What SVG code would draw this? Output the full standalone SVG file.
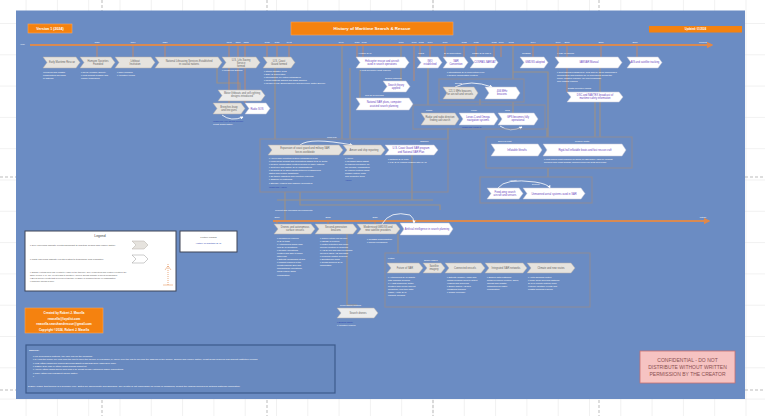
<svg xmlns="http://www.w3.org/2000/svg" width="765" height="416" viewBox="0 0 765 416">
<defs>
<pattern id="grid" x="25.6" y="23" width="31.3" height="31.3" patternUnits="userSpaceOnUse">
<path d="M0 0H31.3M0 0V31.3" fill="none" stroke="#dcdcdc" stroke-width="0.8"/>
</pattern>
<marker id="ar" viewBox="0 0 10 10" refX="8" refY="5" markerWidth="3" markerHeight="3" orient="auto"><path d="M0 0L10 5L0 10z" fill="#e0884a"/></marker>
<marker id="ca" viewBox="0 0 10 10" refX="8" refY="5" markerWidth="4" markerHeight="4" orient="auto"><path d="M0 0L10 5L0 10z" fill="#ffffff"/></marker>
</defs>
<style>
.g{fill:#e6e3de;stroke:#b5afa8;stroke-width:0.5}
.w{fill:#ffffff;stroke:#c6c6d6;stroke-width:0.5}
.tg{font-family:"Liberation Sans",Arial,sans-serif;font-size:2.6px;fill:#666;text-anchor:middle}
.tw{font-family:"Liberation Sans",Arial,sans-serif;font-size:2.6px;fill:#6b45c0;text-anchor:middle}
.lb{font-family:"Liberation Sans",Arial,sans-serif;font-size:2.3px;fill:#ffffff}
.lbc{font-family:"Liberation Sans",Arial,sans-serif;font-size:2.3px;fill:#ffffff;text-anchor:middle}
.yr{font-family:"Liberation Sans",Arial,sans-serif;font-size:2.3px;fill:#ffffff;text-anchor:middle}
.lk{font-family:"Liberation Sans",Arial,sans-serif;font-size:2.3px;fill:#2a3fb0}
.grp{fill:none;stroke:#8e8b97;stroke-width:1}
.cn{stroke:#9a9189;stroke-width:1.2;fill:none}
.tk{stroke:#e0884a;stroke-width:0.7}
.arc{fill:none;stroke:#ffffff;stroke-width:0.8}
</style>
<rect width="765" height="416" fill="#ffffff"/>
<rect width="765" height="416" fill="url(#grid)"/>
<g stroke="#a9a9a9" stroke-width="0.8" stroke-dasharray="3 2">
<line x1="102" y1="0" x2="102" y2="416"/><line x1="267" y1="0" x2="267" y2="416"/>
<line x1="433" y1="0" x2="433" y2="416"/><line x1="599" y1="0" x2="599" y2="416"/>
<line x1="0" y1="177" x2="765" y2="177"/><line x1="0" y1="390" x2="765" y2="390"/>
</g>
<rect id="panel" x="16" y="10.5" width="729" height="388.5" fill="#6b8cc3"/>

<!-- header -->
<g id="version"><rect x="28" y="24" width="44" height="9" fill="#f5820f" stroke="#f9a45a" stroke-width="0.6"/><text x="50" y="30" font-family="Liberation Sans,Arial,sans-serif" font-size="3.6" font-weight="bold" fill="#fff" text-anchor="middle">Version 1 (2024)</text></g>
<g id="title"><rect x="291" y="22" width="162" height="13" fill="#f5820f" stroke="#f9a45a" stroke-width="0.6"/><text x="372" y="30" font-family="Liberation Sans,Arial,sans-serif" font-size="4.4" font-weight="bold" fill="#fff" text-anchor="middle">History of Maritime Search &amp; Rescue</text></g>
<g id="updated"><rect x="649" y="26" width="93" height="6.5" fill="#f5820f"/><text x="695.5" y="30.3" font-family="Liberation Sans,Arial,sans-serif" font-size="2.6" font-weight="bold" fill="#fff" text-anchor="middle">Updated: 01/2024</text></g>

<!-- connectors -->
<g id="connectors">
<g class="cn">
<path d="M217 68V83H240V90"/>
<path d="M275 68V139"/>
<path d="M285 192V221"/>
<path d="M342 45V139"/>
<path d="M350 68V139"/>
<path d="M360 70V98"/>
<path d="M401 45V81"/>
<path d="M428 67V105"/>
<path d="M513 45V79"/>
<path d="M513 102V113"/>
<path d="M513 72H548V137"/>
<path d="M600 68V137"/>
<path d="M547 128V137"/>
<path d="M548 168V177"/>
<path d="M412 155V200"/>
<path d="M448 128V139"/>
<path d="M277 200H433"/>
<path d="M300 192V205H440V210"/>
<path d="M347 234V305H357"/>
<path d="M398 234V253"/>
<path d="M480 99V105"/>
<path d="M595 102V137"/>
</g>
<g class="tk">
<line x1="97" y1="45" x2="97" y2="57"/><line x1="133" y1="45" x2="133" y2="57"/><line x1="165" y1="45" x2="165" y2="57"/>
<line x1="229" y1="45" x2="229" y2="57"/><line x1="238" y1="45" x2="238" y2="57"/><line x1="245" y1="45" x2="245" y2="57"/>
<line x1="229" y1="68" x2="229" y2="103"/><line x1="238" y1="68" x2="238" y2="90"/><line x1="245" y1="68" x2="245" y2="103"/>
<line x1="267" y1="45" x2="267" y2="57"/><line x1="277" y1="45" x2="277" y2="57"/><line x1="289" y1="45" x2="289" y2="57"/>
<line x1="357" y1="45" x2="357" y2="57"/><line x1="363" y1="45" x2="363" y2="57"/>
<line x1="414" y1="45" x2="414" y2="81"/><line x1="420" y1="45" x2="420" y2="57"/><line x1="430" y1="45" x2="430" y2="57"/>
<line x1="445" y1="45" x2="445" y2="57"/><line x1="464" y1="45" x2="464" y2="57"/><line x1="476" y1="45" x2="476" y2="57"/>
<line x1="494" y1="45" x2="494" y2="57"/><line x1="501" y1="45" x2="501" y2="57"/><line x1="533" y1="45" x2="533" y2="57"/>
<line x1="558" y1="45" x2="558" y2="57"/><line x1="567" y1="45" x2="567" y2="92"/><line x1="601" y1="45" x2="601" y2="57"/>
<line x1="637" y1="45" x2="637" y2="57"/>
<line x1="277" y1="221" x2="277" y2="224"/><line x1="328" y1="221" x2="328" y2="224"/><line x1="375" y1="221" x2="375" y2="224"/><line x1="414" y1="221" x2="414" y2="223"/>
</g>
<line x1="30" y1="45" x2="712" y2="45" stroke="#d98a52" stroke-width="2.2" marker-end="url(#ar)"/>
<line x1="273" y1="221" x2="709" y2="221" stroke="#d98a52" stroke-width="2.2" marker-end="url(#ar)"/>
<path class="arc" d="M222 115Q231 122 243 117" marker-end="url(#ca)"/>
<path class="arc" d="M455 87Q470 79 492 87" marker-end="url(#ca)"/>
<path class="arc" d="M500 126Q510 133 522 127" marker-end="url(#ca)"/>
<path class="arc" d="M300 145Q310 137 352 145" marker-end="url(#ca)"/>
<path class="arc" d="M498 188Q505 178 535 182Q548 184 550 188" marker-end="url(#ca)"/>
<path class="arc" d="M382 224Q390 210 410 215Q414 218 414 223" marker-end="url(#ca)"/>
</g>

<!-- timeline labels -->
<g id="years">
<text x="20" y="44.5" class="lb">Year</text>
<text x="97" y="42.5" class="yr">1656</text><text x="133" y="42.5" class="yr">1774</text><text x="165" y="42.5" class="yr">1824</text>
<text x="229" y="42.5" class="yr">1848</text><text x="238" y="42.5" class="yr">1871</text><text x="246" y="42.5" class="yr">1878</text>
<text x="267" y="42.5" class="yr">1915</text><text x="277" y="42.5" class="yr">1939</text><text x="289" y="42.5" class="yr">1942</text>
<text x="341" y="42.5" class="yr">1946</text><text x="357" y="42.5" class="yr">1956</text><text x="364" y="42.5" class="yr">1965</text>
<text x="401" y="42.5" class="yr">1967</text><text x="414" y="42.5" class="yr">1970</text><text x="421" y="42.5" class="yr">1972</text>
<text x="430" y="42.5" class="yr">1974</text><text x="445" y="42.5" class="yr">1979</text><text x="464" y="42.5" class="yr">1982</text>
<text x="476" y="42.5" class="yr">1985</text><text x="494" y="42.5" class="yr">1988</text><text x="501" y="42.5" class="yr">1990</text>
<text x="511" y="42.5" class="yr">1992</text><text x="533" y="42.5" class="yr">1994</text><text x="558" y="42.5" class="yr">1999</text>
<text x="567" y="42.5" class="yr">2000</text><text x="601" y="42.5" class="yr">2006</text><text x="635" y="42.5" class="yr">2010</text>
<text x="703" y="42.5" class="yr">Present</text>
<text x="277" y="217.5" class="yr">2010</text><text x="328" y="217.5" class="yr">2015</text><text x="375" y="217.5" class="yr">2020</text>
<text x="703" y="217.5" class="yr">Future</text>
<text x="275" y="211" class="lb">Current and emerging developments</text>
</g>

<!-- group boxes -->
<g id="groups">
<rect class="grp" x="439" y="79" width="85" height="23"/>
<rect class="grp" x="413" y="105" width="132" height="24"/>
<rect class="grp" x="486" y="137" width="146" height="31"/>
<rect class="grp" x="480" y="177" width="112" height="26"/>
<rect class="grp" x="260" y="139" width="188" height="53"/>
<rect class="grp" x="385" y="253" width="205" height="54"/>
</g>

<!-- top row -->
<g id="n1"><polygon class="g" points="43,57 76,57 80,62.5 76,68 43,68 47,62.5"/><text class="tg" x="62" y="63.4">Early Maritime Rescue</text>
<text class="lb" x="43" y="73">Wreckers and coastal</text><text class="lb" x="43" y="76">communities aid ships</text><text class="lb" x="43" y="79">in distress</text></g>
<g id="n2"><polygon class="g" points="80,57 111,57 115,62.5 111,68 80,68 84,62.5"/><text class="tg" x="98" y="62">Humane Societies</text><text class="tg" x="98" y="65">Founded</text>
<text class="lb" x="81" y="73">▪ Royal Humane Society</text><text class="lb" x="81" y="76">▪ First lifeboat designs and</text><text class="lb" x="81" y="79">rescue techniques</text></g>
<g id="n3"><polygon class="g" points="115,57 151,57 155,62.5 151,68 115,68 119,62.5"/><text class="tg" x="135" y="62">Lifeboat</text><text class="tg" x="135" y="65">Institution</text>
<text class="lb" x="117" y="73">▪ RNLI founded</text><text class="lb" x="117" y="76">▪ Volunteer crews</text></g>
<g id="n4"><polygon class="g" points="155,57 218,57 222,62.5 218,68 155,68 159,62.5"/><text class="tg" x="189" y="62">National Lifesaving Services Established</text><text class="tg" x="189" y="65">in coastal nations</text></g>
<g id="n5"><polygon class="g" points="222,57 256,57 260,62.5 256,68 222,68 226,62.5"/><text class="tg" x="241" y="61">U.S. Life-Saving</text><text class="tg" x="241" y="64">Service</text><text class="tg" x="241" y="67">formed</text>
<text class="lb" x="222" y="71">▪ Lifesaving stations</text></g>
<g id="n6"><polygon class="g" points="263,57 291,57 295,62.5 291,68 263,68 267,62.5"/><text class="tg" x="279" y="62">U.S. Coast</text><text class="tg" x="279" y="65">Guard formed</text>
<text class="lb" x="264" y="72">▪ Titanic disaster 1912</text><text class="lb" x="264" y="75">▪ SOLAS Convention</text><text class="lb" x="264" y="78">▪ International Ice Patrol established</text><text class="lb" x="264" y="81">▪ Radio distress signals and SOS adopted</text><text class="lb" x="264" y="84">▪ Merger of Life-Saving Service and Revenue Cutter Service</text></g>
<g id="n7"><text class="lb" x="358" y="54">Aviation SAR</text><polygon class="w" points="356,57 405,57 409,62.5 405,68 356,68 360,62.5"/><text class="tw" x="382" y="62">Helicopter rescue and aircraft</text><text class="tw" x="382" y="65">used in search operations</text>
<text class="lb" x="360" y="71">▪ First helicopter hoist rescues</text></g>
<g id="n8"><text class="lb" x="418" y="54">IMCO</text><polygon class="w" points="417,57 438,57 442,62.5 438,68 417,68 421,62.5"/><text class="tw" x="430" y="62">IMO</text><text class="tw" x="430" y="65">established</text></g>
<g id="n9"><text class="lb" x="444" y="54">SAR Convention</text><polygon class="w" points="443,57 464,57 468,62.5 464,68 443,68 447,62.5"/><text class="tw" x="456" y="62">SAR</text><text class="tw" x="456" y="65">Convention</text>
<text class="lb" x="447" y="73">▪ International SAR Convention 1979</text><text class="lb" x="447" y="76">▪ Rescue coordination centres</text></g>
<g id="n10"><text class="lb" x="472" y="54">COSPAS-SARSAT</text><polygon class="w" points="470,57 494,57 498,62.5 494,68 470,68 474,62.5"/><text class="tw" x="485" y="63.4">COSPAS-SARSAT</text></g>
<g id="n11"><text class="lb" x="522" y="54">GMDSS</text><polygon class="w" points="520,57 544,57 548,62.5 544,68 520,68 524,62.5"/><text class="tw" x="535" y="63.4">GMDSS adopted</text></g>
<g id="n12"><text class="lb" x="557" y="54">IAMSAR Manual</text><polygon class="w" points="555,57 618,57 622,62.5 618,68 555,68 559,62.5"/><text class="tw" x="589" y="63.4">IAMSAR Manual</text>
<text class="lb" x="557" y="73">▪ Joint manual published by IMO and ICAO for harmonised</text><text class="lb" x="557" y="76">aeronautical and maritime SAR procedures across the</text><text class="lb" x="557" y="79">world, updated regularly for new technology</text><text class="lb" x="557" y="82">and lessons learned</text></g>
<g id="n13"><polygon class="w" points="627,57 658,57 662,62.5 658,68 627,68 631,62.5"/><text class="tw" x="645" y="63.4">AIS and satellite tracking</text></g>

<!-- second level -->
<g id="n14"><polygon fill="#ececec" stroke="#b5afa8" stroke-width="0.5" points="218,90 261,90 265,95.5 261,101 218,101 222,95.5"/><text class="tg" x="242" y="94">Motor lifeboats and self-righting</text><text class="tg" x="242" y="97">designs introduced</text></g>
<g id="n15"><polygon class="g" points="213,103 241,103 245,108.5 241,114 213,114 217,108.5"/><text class="tg" x="229" y="108">Breeches buoy</text><text class="tg" x="229" y="111">and line guns</text></g>
<g id="n16"><polygon class="w" points="245,103 266,103 270,108.5 266,114 245,114 249,108.5"/><text class="tw" x="257" y="109.5">Radio SOS</text>
<text class="lk" x="213" y="122">Wikipedia: Life-saving service</text><text class="lb" x="213" y="125">Coast guard history</text></g>
<g id="n17"><text class="lb" x="385" y="79">Search planning</text><polygon class="w" points="383,81 406,81 410,86.5 406,92 383,92 387,86.5"/><text class="tw" x="396" y="86">Search theory</text><text class="tw" x="396" y="89">applied</text></g>
<g id="n18"><text class="lb" x="365" y="96">Civil SAR services</text><polygon class="w" points="356,98 409,98 413,104 409,110 356,110 360,104"/><text class="tw" x="384" y="103">National SAR plans, computer</text><text class="tw" x="384" y="106.5">assisted search planning</text></g>
<g id="n19"><text class="lb" x="455" y="84">EPIRB</text><polygon class="g" points="443,87 474,87 478,93 474,99 443,99 447,93"/><text class="tg" x="460" y="92">121.5 MHz beacons</text><text class="tg" x="460" y="95">for aircraft and vessels</text></g>
<g id="n20"><polygon class="w" points="485,87 516,87 520,93 516,99 485,99 489,93"/><text class="tw" x="502" y="92">406 MHz</text><text class="tw" x="502" y="95">beacons</text></g>
<g id="n21"><text class="lb" x="568" y="89">Digital selective calling</text><polygon class="w" points="567,92 619,92 623,97 619,102 567,102 571,97"/><text class="tw" x="595" y="96">DSC and NAVTEX broadcast of</text><text class="tw" x="595" y="99">maritime safety information</text></g>
<g id="n22"><text class="lb" x="426" y="111">Radar</text><polygon class="g" points="421,113 455,113 459,119 455,125 421,125 425,119"/><text class="tg" x="440" y="118">Radar and radio direction</text><text class="tg" x="440" y="121">finding aid search</text></g>
<g id="n23"><text class="lb" x="471" y="111">Loran</text><polygon class="w" points="459,113 494,113 498,119 494,125 459,125 463,119"/><text class="tw" x="478" y="118">Loran-C and Omega</text><text class="tw" x="478" y="121">navigation systems</text>
<text class="lk" x="462" y="127.5">Wikipedia: Loran-C</text></g>
<g id="n24"><text class="lb" x="505" y="111">GPS</text><polygon class="w" points="498,113 534,113 538,119 534,125 498,125 502,119"/><text class="tw" x="518" y="118">GPS becomes fully</text><text class="tw" x="518" y="121">operational</text></g>
<g id="n25"><text class="lb" x="498" y="142">Survival craft</text><polygon class="w" points="491,144 538,144 542,150 538,156 491,156 495,150"/><text class="tw" x="517" y="151">Inflatable liferafts</text></g>
<g id="n26"><text class="lb" x="575" y="142">Rescue boats</text><polygon class="w" points="543,144 622,144 626,150 622,156 543,156 547,150"/><text class="tw" x="585" y="151">Rigid-hull inflatable boats and fast rescue craft</text>
<text class="lb" x="544" y="160">▪ Fast rescue craft required on ships; RHIBs widely used by lifeboat</text><text class="lb" x="544" y="163">services and coast guards; improved survival suits and PFDs</text></g>
<g id="n27"><text class="lb" x="509" y="180.5">Aircraft</text><text class="lb" x="532" y="185">Drones</text><polygon class="w" points="487,188 519,188 523,193.5 519,199 487,199 491,193.5"/><text class="tw" x="505" y="192.5">Fixed-wing search</text><text class="tw" x="505" y="195.5">aircraft and sensors</text></g>
<g id="n28"><polygon class="w" points="523,188 581,188 585,193.5 581,199 523,199 527,193.5"/><text class="tw" x="554" y="194.5">Unmanned aerial systems used in SAR</text></g>
<g id="n29"><text class="lb" x="327" y="138">Cold War</text><polygon class="g" points="268,145 339,145 343,150 339,155 268,155 272,150"/><text class="tg" x="305" y="149">Expansion of coast guard and military SAR</text><text class="tg" x="305" y="152.5">forces worldwide</text>
<text class="lb" x="269" y="159">▪ Amver ship reporting system established 1958</text><text class="lb" x="269" y="162">▪ Long-range aircraft and helicopters added to SAR fleets</text><text class="lb" x="269" y="165">▪ Rescue coordination centres formed in many nations</text><text class="lb" x="269" y="168">▪ Joint civil and military SAR organisations</text><text class="lb" x="269" y="171">▪ Regional SAR agreements between neighbouring</text><text class="lb" x="269" y="174">states and mutual assistance</text><text class="lb" x="269" y="177">▪ Oil tanker disasters and pollution response</text><text class="lb" x="269" y="180">▪ Offshore oil platforms</text><text class="lb" x="269" y="184">▪ Standby vessels and offshore helicopters</text><text class="lk" x="269" y="188">Wikipedia: Amver</text></g>
<g id="n30"><polygon class="g" points="343,145 381,145 385,150 381,155 343,155 347,150"/><text class="tg" x="364" y="151">Amver and ship reporting</text>
<text class="lb" x="345" y="159">▪ Amver</text><text class="lb" x="345" y="162">▪ Merchant ships assist</text><text class="lb" x="345" y="165">in rescues anywhere on</text><text class="lb" x="345" y="168">the oceans, coordinated</text><text class="lb" x="345" y="171">by rescue centres using</text><text class="lb" x="345" y="174">surface picture plots</text><text class="lb" x="345" y="177">and computer tools</text><text class="lk" x="345" y="181">Amver</text></g>
<g id="n31"><text class="lb" x="420" y="142">Offshore</text><polygon class="w" points="385,145 434,145 438,150 434,155 385,155 389,150"/><text class="tw" x="411" y="149">U.S. Coast Guard SAR program</text><text class="tw" x="411" y="152.5">and National SAR Plan</text>
<text class="lb" x="388" y="160">▪ National SAR Plan</text><text class="lb" x="388" y="163">▪ U.S. SAR regions aligned with ICAO</text></g>

<!-- lower timeline -->
<g id="n32"><polygon class="g" points="274,224 311,224 315,229 311,234 274,234 278,229"/><text class="tg" x="295" y="228">Drones and autonomous</text><text class="tg" x="295" y="231">surface vessels</text>
<text class="lb" x="277" y="239">▪ Unmanned vehicles</text><text class="lb" x="277" y="242">in SAR trials</text><text class="lb" x="277" y="245">▪ Autonomous ships raise</text><text class="lb" x="277" y="248">new SAR questions</text><text class="lb" x="277" y="251">▪ Remote operations</text><text class="lb" x="277" y="254">centres and ship to shore</text><text class="lb" x="277" y="257">data links</text><text class="lb" x="277" y="260">▪ Satellite broadband at sea</text><text class="lb" x="277" y="263">▪ Migrant rescues in the</text><text class="lb" x="277" y="266">Mediterranean Sea and</text><text class="lb" x="277" y="269">humanitarian operations,</text><text class="lb" x="277" y="272">NGO rescue ships</text><text class="lb" x="277" y="276">coordination</text></g>
<g id="n33"><polygon class="g" points="315,224 353,224 357,229 353,234 315,234 319,229"/><text class="tg" x="336" y="228">Second-generation</text><text class="tg" x="336" y="231">beacons</text>
<text class="lb" x="320" y="239">▪ Galileo return link service</text><text class="lb" x="320" y="242">▪ MEOSAR system</text><text class="lb" x="320" y="245">▪ Faster detection and more</text><text class="lb" x="320" y="248">precise location of beacons</text><text class="lb" x="320" y="251">▪ AIS-SART and man overboard</text><text class="lb" x="320" y="254">devices using AIS and DSC</text><text class="lb" x="320" y="257">▪ Personal locator beacons</text><text class="lb" x="320" y="260">▪ Smartphone apps</text><text class="lb" x="320" y="263">▪ Crowd-sourced SAR</text><text class="lb" x="320" y="266">information</text></g>
<g id="n34"><polygon class="g" points="357,224 396,224 400,229 396,234 357,234 361,229"/><text class="tg" x="378" y="228">Modernised GMDSS and</text><text class="tg" x="378" y="231">new satellite providers</text>
<text class="lb" x="367" y="240">▪ GMDSS modernisation</text><text class="lb" x="367" y="243">▪ Iridium recognised</text></g>
<g id="n35"><polygon class="w" points="400,223 449,223 453,229 449,235 400,235 404,229"/><text class="tw" x="427" y="230">Artificial intelligence in search planning</text></g>
<g id="n36"><text class="lb" x="388" y="259">Future</text><polygon class="g" points="387,263 419,263 423,268 419,273 387,273 391,268"/><text class="tg" x="405" y="269">Future of SAR</text>
<text class="lb" x="388" y="278">▪ Autonomous SAR assets</text><text class="lb" x="388" y="281">with onboard sensors</text><text class="lb" x="388" y="284">▪ AI drift modelling, better</text><text class="lb" x="388" y="287">weather and ocean current</text><text class="lb" x="388" y="290">prediction, real-time data</text><text class="lb" x="388" y="293">fusion, Arctic SAR</text><text class="lb" x="388" y="296">capacity building</text></g>
<g id="n37"><text class="lb" x="424" y="261">Space based</text><polygon class="g" points="423,263 441,263 445,268 441,273 423,273 427,268"/><text class="tg" x="434" y="267">Satellite</text><text class="tg" x="434" y="270">imagery</text>
<text class="lb" x="447" y="278">▪ Satellite imagery, radar and</text><text class="lb" x="447" y="281">optical sensors used to detect</text><text class="lb" x="447" y="284">vessels and survivors</text><text class="lb" x="447" y="287">▪ Space-based AIS and</text><text class="lb" x="447" y="290">emissions tracking</text><text class="lb" x="447" y="293">▪ Global coverage</text></g>
<g id="n38"><polygon class="g" points="445,263 481,263 485,268 481,273 445,273 449,268"/><text class="tg" x="465" y="269">Connected vessels</text></g>
<g id="n39"><polygon class="g" points="485,263 523,263 527,268 523,273 485,273 489,268"/><text class="tg" x="506" y="269">Integrated SAR networks</text>
<text class="lb" x="487" y="278">▪ Shared data platforms</text><text class="lb" x="487" y="281">between rescue centres, ships,</text><text class="lb" x="487" y="284">aircraft and coastal</text><text class="lb" x="487" y="287">authorities for faster</text><text class="lb" x="487" y="290">coordination</text></g>
<g id="n40"><polygon class="g" points="527,263 571,263 575,268 571,273 527,273 531,268"/><text class="tg" x="551" y="269">Climate and new routes</text>
<text class="lb" x="528" y="278">▪ Arctic shipping routes</text><text class="lb" x="528" y="281">▪ Polar Code and long distance</text><text class="lb" x="528" y="284">SAR in remote waters; more</text><text class="lb" x="528" y="287">extreme weather events and</text><text class="lb" x="528" y="290">coastal flooding rescues</text></g>
<g id="n41"><text class="lb" x="340" y="305.5">Recreational boating</text><polygon fill="#ececec" stroke="#b5afa8" stroke-width="0.5" points="337,308 374,308 378,313 374,318 337,318 341,313"/><text class="tg" x="358" y="314">Search drones</text>
<text class="lk" x="337" y="322.5">▪ Boating safety</text><text class="lb" x="337" y="326">▪ Volunteer rescue</text></g>

<!-- legend -->
<g id="legend"><rect x="25" y="231" width="151" height="60" fill="#ffffff" stroke="#3e4457" stroke-width="1"/>
<text x="100" y="236.5" font-family="Liberation Sans,Arial,sans-serif" font-size="3.4" fill="#444" text-anchor="middle">Legend</text>
<text x="30" y="245.5" font-family="Liberation Sans,Arial,sans-serif" font-size="2.4" fill="#555">▪ Grey chevrons indicate events significant to maritime search and rescue history</text>
<polygon class="g" points="132,241 144,241 148,245 144,249 132,249 136,245"/>
<text x="30" y="259.5" font-family="Liberation Sans,Arial,sans-serif" font-size="2.4" fill="#555">▪ White chevrons indicate events related to technology and regulation</text>
<polygon fill="#fff" stroke="#999" stroke-width="0.5" points="132,255 144,255 148,259 144,263 132,263 136,259"/>
<text x="30" y="272.5" font-family="Liberation Sans,Arial,sans-serif" font-size="2.2" fill="#555">▪ Orange vertical lines link events to years on the timeline; grey connectors link related events in the</text>
<text x="30" y="275.5" font-family="Liberation Sans,Arial,sans-serif" font-size="2.2" fill="#555">same period (e.g. one event leads to another); curved arrows indicate a direct progression</text>
<text x="30" y="278.5" font-family="Liberation Sans,Arial,sans-serif" font-size="2.2" fill="#555">▪ Boxes group events that developed together or share a common theme or organisation</text>
<text x="30" y="281.5" font-family="Liberation Sans,Arial,sans-serif" font-size="2.2" fill="#555">▪ Links are shown in blue</text>
<line x1="168" y1="264" x2="168" y2="285" stroke="#e0884a" stroke-width="0.7" stroke-dasharray="1 1"/>
<path d="M165 270L168 266L171 270" fill="none" stroke="#e0884a" stroke-width="0.5"/>
<line x1="163" y1="285" x2="173" y2="285" stroke="#e0884a" stroke-width="0.5"/>
</g>
<g id="links"><rect x="180" y="231" width="57" height="21" fill="#ffffff" stroke="#3e4457" stroke-width="1"/>
<text x="208.5" y="237.5" font-family="Liberation Sans,Arial,sans-serif" font-size="2.4" fill="#555" text-anchor="middle">Further reading</text>
<text x="208.5" y="243.5" font-family="Liberation Sans,Arial,sans-serif" font-size="2.4" fill="#2a3fb0" text-anchor="middle">History of maritime SAR</text></g>

<!-- created by -->
<g id="created"><rect x="25" y="308" width="78" height="25" fill="#f5820f" stroke="#f9a45a" stroke-width="0.6"/>
<g font-family="Liberation Sans,Arial,sans-serif" font-size="3" font-weight="bold" fill="#fff" text-anchor="middle">
<text x="64" y="314">Created by Robert J. Masella</text><text x="64" y="319.5">rmasella@loyalist.com</text><text x="64" y="325">rmasella.searchandrescue@gmail.com</text><text x="64" y="330.5">Copyright ©2024, Robert J. Masella</text></g></g>

<!-- sources -->
<g id="sources"><rect x="26" y="345" width="309" height="48" fill="#6889bf" stroke="#3c5a8c" stroke-width="1.2"/>
<g font-family="Liberation Sans,Arial,sans-serif" font-size="2.4" fill="#fff">
<text x="29" y="351" font-weight="bold">Sources:</text>
<text x="33" y="357">▪ For hyperlinked material, the user can do the following:</text>
<text x="33" y="360.3">▪ a) Hold the CTRL key and click the link to open the source in a browser; b) hover over the link to preview the address of the source. Search and rescue history, coast guard archives and lifeboat institution records</text>
<text x="33" y="363.6">▪ IMO: https://www.imo.org/en/OurWork/Safety/Pages/SearchAndRescue.aspx</text>
<text x="33" y="366.9">▪ COSPAS-SARSAT: https://www.cospas-sarsat.int</text>
<text x="33" y="370.2">▪ Amver: https://www.amver.com and U.S. Coast Guard Historian's Office publications</text>
<text x="33" y="373.5">▪ RNLI: https://rnli.org/about-us/our-history</text>
<text x="33" y="377">▪</text>
<text x="28" y="387">DISCLAIMER: this timeline is a summary only. Dates are approximate and simplified. The creator is not responsible for errors or omissions; consult the original sources for detailed historical information.</text>
</g></g>

<!-- confidential -->
<g id="confidential"><rect x="640" y="351" width="95" height="32" fill="#f6c3c2" stroke="#c86f6f" stroke-width="0.8"/>
<g font-family="Liberation Sans,Arial,sans-serif" font-size="5" fill="#8a5050" text-anchor="middle">
<text x="687.5" y="361.5">CONFIDENTIAL - DO NOT</text><text x="687.5" y="368.5">DISTRIBUTE WITHOUT WRITTEN</text><text x="687.5" y="375.5">PERMISSION BY THE CREATOR</text></g></g>
</svg>
